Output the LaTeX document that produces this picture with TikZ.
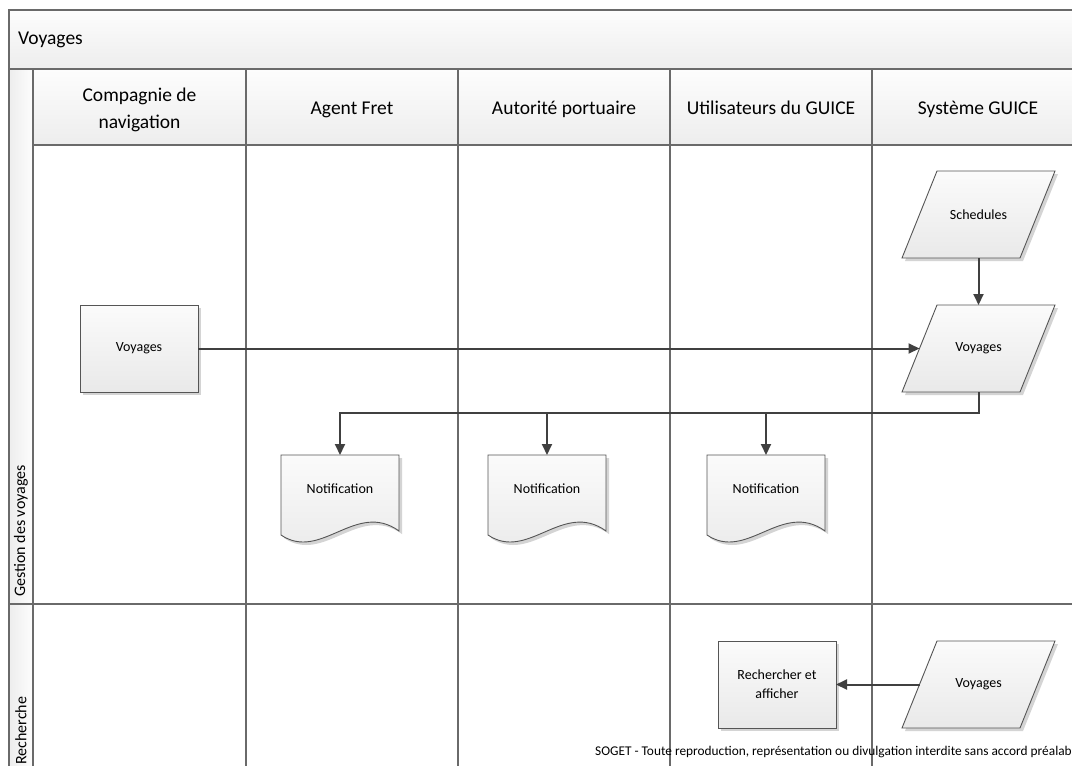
\documentclass[tikz,border=0pt]{standalone}
\usepackage{fontspec}
\setmainfont{Carlito}
\usetikzlibrary{arrows.meta,calc}

\definecolor{lanegray}{HTML}{6A6A6A}
\definecolor{arrowgray}{HTML}{404040}
\definecolor{edgegray}{HTML}{555555}
\definecolor{shadowgray}{HTML}{D4D4D4}
\definecolor{shapetop}{HTML}{FBFBFB}
\definecolor{shapebot}{HTML}{E9E9E9}
\definecolor{bandtop}{HTML}{FDFDFD}
\definecolor{bandbot}{HTML}{EDEDED}

\pgfdeclarelayer{lanes}
\pgfdeclarelayer{shapes}
\pgfsetlayers{lanes,shapes,main}

\tikzset{
  laneline/.style={draw=lanegray, line width=1.5pt},
  band/.style={laneline, top color=bandtop, bottom color=bandbot},
  sideband/.style={laneline, left color=bandbot, right color=bandtop},
  hdr/.style={font=\fontsize{19.5}{27}\selectfont, align=center, inner sep=0pt},
  lanelabel/.style={font=\fontsize{16}{18}\selectfont, rotate=90, anchor=west, inner sep=0pt},
  slot/.style={minimum width=#1, minimum height=87pt, inner sep=0pt, outer sep=0pt,
               font=\fontsize{14}{19}\selectfont, align=center},
  docslot/.style={minimum width=118pt, minimum height=68pt, inner sep=0pt, outer sep=0pt,
               font=\fontsize{14}{19}\selectfont, align=center},
  shapebody/.style={draw=edgegray, line width=0.9pt, top color=shapetop, bottom color=shapebot,
               preaction={fill=shadowgray, transform canvas={shift={(3pt,-3pt)}}}},
  flow/.style={draw=arrowgray, line width=2pt, -{Triangle[length=11pt,width=10pt]}},
}

% slanted data shape around a named node
\newcommand\paraShape[1]{%
  \path[shapebody] ($(#1.north west)+(35,0)$) -- (#1.north east)
    -- ($(#1.south east)+(-35,0)$) -- (#1.south west) -- cycle;}
% document shape with a wavy lower edge around a named node
\newcommand\docShape[1]{%
  \path[shapebody] (#1.north west) -- (#1.north east) -- ($(#1.south east)+(0,8)$)
    .. controls ($(#1.south west)+(75,-23)$) and ($(#1.south west)+(40,39)$)
    .. ($(#1.south west)+(0,12)$) -- cycle;}

\begin{document}
\begin{tikzpicture}[x=1pt,y=-1pt]
\useasboundingbox (0,0) rectangle (1072,766);

% ---- pool frame, lanes and headers
\begin{pgfonlayer}{lanes}
  \fill[white] (0,0) rectangle (1072,766);
  \path[band] (9,10) rectangle (1090,69);
  \path[sideband] (9,69) rectangle (33,800);
  \foreach \xa/\xb in {33/246, 246/458, 458/670, 670/872, 872/1084}{
    \path[band] (\xa,69) rectangle (\xb,145);
    \path[laneline] (\xa,145) rectangle (\xb,604);
    \path[laneline] (\xa,604) rectangle (\xb,800);
  }
  \draw[laneline] (9,604) -- (1090,604);
\end{pgfonlayer}

\node[anchor=west, inner sep=0pt, font=\fontsize{19.5}{22}\selectfont] (title) at (18,40) {Voyages};

\node[hdr] (h1) at (139.5,110) {Compagnie de\\navigation};
\node[hdr, anchor=base] (h2) at (352,114) {Agent Fret};
\node[hdr, anchor=base] (h3) at (564,114) {Autorité portuaire};
\node[hdr, anchor=base] (h4) at (771,114) {Utilisateurs du GUICE};
\node[hdr, anchor=base] (h5) at (978,114) {Système GUICE};

\node[lanelabel] (l1) at (21,597) {Gestion des voyages};
\node[lanelabel] (l2) at (21,765) {Recherche};

% ---- shapes of the "Gestion des voyages" lane
\node[slot=118pt] (cv) at (139,348.5) {Voyages};
\node[slot=153pt] (sch) at (978.5,214.5) {Schedules};
\node[slot=153pt] (gv) at (978.5,348.5) {Voyages};
\node[docslot] (n1) at (340,489) {Notification};
\node[docslot] (n2) at (547,489) {Notification};
\node[docslot] (n3) at (766,489) {Notification};

% ---- shapes of the "Recherche" lane
\node[slot=118pt] (ra) at (777,684.5) {Rechercher et\\afficher};
\node[slot=153pt] (rv) at (978.5,684.5) {Voyages};

\begin{pgfonlayer}{shapes}
  \path[shapebody] (cv.north west) rectangle (cv.south east);
  \path[shapebody] (ra.north west) rectangle (ra.south east);
  \paraShape{sch}
  \paraShape{gv}
  \paraShape{rv}
  \docShape{n1}
  \docShape{n2}
  \docShape{n3}
\end{pgfonlayer}

% ---- connectors
\draw[flow] (sch.south) -- (gv.north);
\draw[flow] (cv.east) -- ([xshift=17.5pt]gv.west);
\draw[flow] (gv.south) -- ++(0,21) -| (n1.north);
\draw[flow] (gv.south) -- ++(0,21) -| (n2.north);
\draw[flow] (gv.south) -- ++(0,21) -| (n3.north);
\draw[flow] ([xshift=17.5pt]rv.west) -- (ra.east);

% ---- footer notice
\node[anchor=east, inner sep=0pt, font=\fontsize{13.35}{15}\selectfont] (foot) at (1072,752)
  {SOGET - Toute reproduction, représentation ou divulgation interdite sans accord préalab};
\end{tikzpicture}
\end{document}
